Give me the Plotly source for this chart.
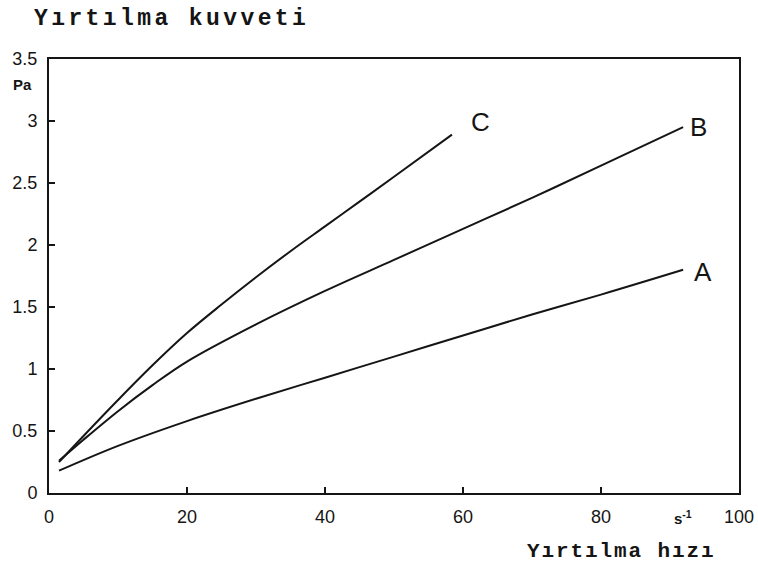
import plotly.graph_objects as go

# Data
a_x = [1.45, 10, 20, 30, 40, 50, 60, 70, 80, 91.9]
a_y = [0.18, 0.38, 0.58, 0.76, 0.93, 1.10, 1.27, 1.44, 1.60, 1.80]

b_x = [1.45, 5, 10, 15, 20, 30, 40, 50, 60, 70, 80, 91.9]
b_y = [0.26, 0.43, 0.66, 0.87, 1.06, 1.36, 1.63, 1.88, 2.13, 2.38, 2.64, 2.95]

c_x = [1.45, 5, 10, 15, 20, 25, 30, 35, 40, 45, 50, 58.4]
c_y = [0.25, 0.46, 0.75, 1.03, 1.29, 1.52, 1.74, 1.95, 2.15, 2.35, 2.55, 2.89]

series_names = ["A", "B", "C"]
label_pos = {"A": (94.8, 1.78), "B": (94.1, 2.95), "C": (62.5, 2.99)}

x_ticks = [0, 20, 40, 60, 80, 100]
y_ticks = [0, 0.5, 1, 1.5, 2, 2.5, 3, 3.5]
y_tick_text = ["0", "0.5", "1", "1.5", "2", "2.5", "3", "3.5"]

title_text = "Yırtılma kuvveti"
x_title_text = "Yırtılma hızı"
x_unit = "s<sup>-1</sup>"
y_unit = "Pa"

ink = "#151515"
mono = "Liberation Mono, Courier New, monospace"
sans = "Liberation Sans, Arial, sans-serif"

fig = go.Figure()
for xs, ys in [(a_x, a_y), (b_x, b_y), (c_x, c_y)]:
    fig.add_trace(go.Scatter(x=xs, y=ys, mode="lines",
                             line=dict(color=ink, width=2, shape="spline", smoothing=1.0),
                             showlegend=False, hoverinfo="skip"))

for name in series_names:
    lx, ly = label_pos[name]
    fig.add_annotation(x=lx, y=ly, text=name, showarrow=False, xref="x", yref="y",
                       font=dict(family=sans, size=26, color=ink))

fig.add_annotation(x=91.9, y=-0.056, xref="x", yref="paper", text="<b>" + x_unit + "</b>", showarrow=False,
                   yanchor="middle", font=dict(family=sans, size=15, color=ink))
fig.add_annotation(x=-0.022, y=0.942, xref="paper", yref="paper", text="<b>" + y_unit + "</b>", showarrow=False,
                   xanchor="right", yanchor="middle", font=dict(family=sans, size=15, color=ink))

fig.add_annotation(x=0.9696, y=-0.135, xref="paper", yref="paper",
                   text='<span style="letter-spacing:1.9px"><b>' + x_title_text + '</b></span>',
                   showarrow=False, xanchor="right", yanchor="middle",
                   font=dict(family=mono, size=21, color=ink))

fig.update_layout(
    width=758, height=573,
    margin=dict(l=49, r=19, t=59, b=80),
    paper_bgcolor="white", plot_bgcolor="white",
    title=dict(text='<span style="letter-spacing:3.4px"><b>' + title_text + '</b></span>',
               x=34 / 758, xanchor="left", xref="container",
               y=1 - 17 / 573, yanchor="middle", yref="container",
               font=dict(family=mono, size=23, color=ink)),
    xaxis=dict(range=[0, 100], tickvals=x_ticks, ticks="inside", ticklen=6, tickwidth=1.5,
               tickcolor=ink, showline=True, linecolor=ink, linewidth=2, mirror=True,
               showgrid=False, zeroline=False, ticklabelstandoff=6, automargin=False,
               tickfont=dict(family=sans, size=18, color=ink)),
    yaxis=dict(range=[0, 3.5], tickvals=y_ticks, ticktext=y_tick_text, ticks="inside", ticklen=6,
               tickwidth=1.5, tickcolor=ink, showline=True, linecolor=ink, linewidth=2, mirror=True,
               showgrid=False, zeroline=False, ticklabelstandoff=6, automargin=False,
               tickfont=dict(family=sans, size=18, color=ink)),
)

fig.write_html("out.html", config={"displayModeBar": False},
               post_script="document.body.style.margin='0';")
